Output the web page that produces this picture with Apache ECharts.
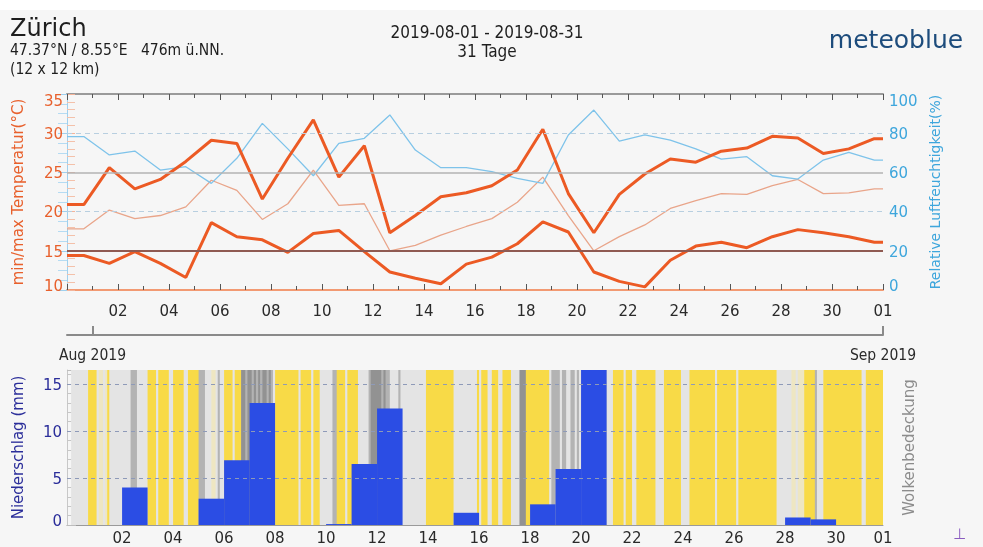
<!DOCTYPE html>
<html><head><meta charset="utf-8">
<script src="https://cdn.jsdelivr.net/npm/echarts@6/dist/echarts.min.js"></script>
<style>html,body{margin:0;padding:0;background:#fff}#c{width:983px;height:547px}</style>
</head><body><div id="c"></div>
<script>
// ---- data (day index 0 = 31 Jul) ----
const days = 32;
const tempMax = [20.9,25.6,22.9,24.1,26.4,29.1,28.7,21.6,26.8,31.7,24.4,28.4,17.3,19.5,21.9,22.4,23.3,25.3,30.5,22.3,17.3,22.2,24.8,26.7,26.3,27.7,28.1,29.6,29.4,27.4,28.0,29.3];
const tempMin = [14.4,13.4,14.9,13.4,11.6,18.6,16.8,16.4,14.8,17.2,17.6,14.9,12.3,11.5,10.8,13.3,14.2,15.9,18.7,17.4,12.3,11.1,10.4,13.8,15.6,16.1,15.4,16.8,17.7,17.3,16.8,16.1];
const tempMean = [17.8,20.2,19.1,19.5,20.6,24.0,22.7,19.0,21.0,25.3,20.8,21.0,15.0,15.7,17.0,18.1,19.1,21.2,24.4,19.5,15.0,16.8,18.3,20.4,21.4,22.3,22.2,23.3,24.1,22.3,22.4,22.9];
const humidity = [78.3,68.9,70.9,61.2,62.9,54.4,67.2,85.0,72.0,58.3,74.8,77.4,89.3,71.4,62.4,62.4,60.4,57.0,54.4,79.1,91.8,76.0,79.1,76.5,72.0,66.8,68.0,58.3,56.6,66.3,70.2,66.3];
const precip = [0,0,4.0,0,0,2.8,6.9,13.0,0,0,0.1,6.5,12.4,0,0,1.3,0,0,2.2,5.95,17.0,0,0,0,0,0,0,0,0.8,0.6,0,0];
// cloud cover, 12 two-hour slots per day: y clear, c thin, l cloudy, g overcast, d thick
const cloud = [
 "llllllllyyyy","lcclcyllllll","llllggglllll","yyyylyyyyyll","yyyyyllyyyyy","ggglllcclgll",
 "yyyylyyyddgd","dgdgdgddgdgl","yyyyyyyyyyyl","yyyyylyyylll","lllggyyyylyy","yyylllllgddd",
 "ddgdggllllgl","llllllllllly","yyyyyyyyyyyy","llllllllllly","lyyyllyyylly","yyylllldddyy",
 "yyyyyyyyylgg","gglggllgglgl","gggggggggggg","lllyyyyylyyy","llyyyyyyyyyl","lllyyyyyyyyl",
 "lllyyyyyyyyy","yyylyyyyyyyy","ylyyyyyyyyyy","yyyyyyyyllll","lllcclcccyyy","yyglllyyyyyy",
 "yyyyyyyyyyyy","llyyyyyyyyyy"];
const tempTicks = [10,15,20,25,30,35];
const humTicks = [0,20,40,60,80,100];
const precipTicks = [0,5,10,15];
const dayTickLabels = ["02","04","06","08","10","12","14","16","18","20","22","24","26","28","30","01"];
const monthLabels = ["Aug 2019","Sep 2019"];
const refTemps = [15,20,25,30];

// ---- build ----
const SHIFT = 0.16; // local-time offset of the daily data
const FF = "DejaVu Sans";
const FC = "DejaVu Sans Condensed";
function linePts(arr){
  const p = [[0, arr[0]]];
  arr.forEach((v,i)=>p.push([i+0.5+SHIFT, v]));
  p.push([days, arr[arr.length-1]]);
  return p;
}
const cloudColors = {y:'#f8da47', c:'#eee6c2', l:'#e4e4e4', g:'#b3b3b3', d:'#929292'};
const codeList = Object.keys(cloudColors);
const runs = [];
cloud.forEach((s,d)=>{
  for(let k=0;k<s.length;k++){
    const t0 = d + k/12 + SHIFT, t1 = t0 + 1/12, ci = codeList.indexOf(s[k]);
    const last = runs[runs.length-1];
    if(last && last[2]===ci && Math.abs(last[1]-t0)<1e-6) last[1]=t1; else runs.push([t0,t1,ci]);
  }
});
const bars = [];
precip.forEach((v,d)=>{ if(v>0) bars.push([d+SHIFT, d+1+SHIFT, v]); });
const bottomLabelVals = dayTickLabels.map((l,i)=> i===dayTickLabels.length-1 ? days : 2*(i+1)+SHIFT);

function edgeFmt(minV,maxV){
  return v => v===maxV ? '{t|'+v+'}' : (v===minV ? '{b|'+v+'}' : '{n|'+v+'}');
}
function rich(color){
  return {t:{color, padding:[17,0,0,0], fontFamily:FF, fontSize:15},
          b:{color, padding:[0,0,5,0], fontFamily:FF, fontSize:15},
          n:{color, padding:[4,0,0,0], fontFamily:FF, fontSize:15}};
}
const tickStyle = {color:'#555', width:1};

const option = {
  backgroundColor:'#f6f6f6',
  animation:false,
  graphic:[
    {type:'rect', left:0, top:0, shape:{width:983, height:10}, style:{fill:'#ffffff'}, z:-1},
    {type:'text', left:10, top:18, style:{text:'Zürich', font:'24px "DejaVu Sans"', fill:'#1e1e1e'}},
    {type:'text', left:10, top:43, style:{text:'47.37°N / 8.55°E   476m ü.NN.', font:'15.5px "DejaVu Sans Condensed"', fill:'#1e1e1e'}},
    {type:'text', left:10, top:62, style:{text:'(12 x 12 km)', font:'15.5px "DejaVu Sans Condensed"', fill:'#1e1e1e'}},
    {type:'text', x:487, y:34, style:{text:'2019-08-01 - 2019-08-31', font:'17px "DejaVu Sans Condensed"', fill:'#1e1e1e', align:'center', verticalAlign:'middle'}},
    {type:'text', x:487, y:53, style:{text:'31 Tage', font:'17px "DejaVu Sans Condensed"', fill:'#1e1e1e', align:'center', verticalAlign:'middle'}},
    {type:'text', x:896, y:41, style:{text:'meteoblue', font:'25px "DejaVu Sans"', fill:'#1d4c7c', align:'center', verticalAlign:'middle'}},
    {type:'text', left:953, top:528, style:{text:'⊥', font:'15px "DejaVu Sans"', fill:'#8a5cc0'}}
  ],
  grid:[
    {left:67, right:100, top:94, height:196},
    {left:67, right:100, top:370, height:156}
  ],
  xAxis:[
    {type:'value', gridIndex:0, min:0, max:days, interval:2, position:'bottom',
     axisLine:{lineStyle:{color:'#f29a72', width:2}},
     axisTick:{inside:true, length:6, lineStyle:tickStyle},
     minorTick:{show:true, splitNumber:2, length:4, lineStyle:tickStyle},
     splitLine:{show:false},
     axisLabel:{margin:15, color:'#2a2a2a', fontFamily:FF, fontSize:15,
       formatter:v=> v===0 ? '' : dayTickLabels[v/2-1]}},
    {type:'value', gridIndex:0, min:0, max:days, interval:2, position:'top',
     axisLine:{lineStyle:{color:'#9a9a9a', width:2}},
     axisTick:{inside:true, length:6, lineStyle:tickStyle},
     minorTick:{show:true, splitNumber:2, length:4, lineStyle:tickStyle},
     splitLine:{show:false}, axisLabel:{show:false}},
    {type:'value', gridIndex:0, min:0, max:days, position:'bottom', offset:45,
     axisLine:{lineStyle:{color:'#8a8a8a', width:2}},
     axisTick:{inside:true, length:9, customValues:[1,days], lineStyle:{color:'#8a8a8a', width:2}},
     splitLine:{show:false},
     axisLabel:{customValues:[1,days], margin:13, color:'#2a2a2a', fontFamily:FC, fontSize:15.5,
       formatter:v=> v===1 ? monthLabels[0] : monthLabels[1]}},
    {type:'value', gridIndex:1, min:0, max:days, position:'bottom',
     axisLine:{lineStyle:{color:'#9a9a9a', width:1}},
     axisTick:{show:false}, splitLine:{show:false},
     axisLabel:{customValues:bottomLabelVals, margin:7, color:'#2a2a2a', fontFamily:FF, fontSize:15,
       formatter:v=> dayTickLabels[bottomLabelVals.findIndex(x=>Math.abs(x-v)<1e-6)]}}
  ],
  yAxis:[
    {type:'value', gridIndex:0, min:10, max:35, interval:5, position:'left',
     name:'min/max Temperatur(°C)', nameLocation:'middle', nameRotate:90, nameGap:40,
     nameTextStyle:{color:'#e8602c', fontFamily:FF, fontSize:15},
     axisLine:{show:true, lineStyle:{color:'#f6c9b4', width:1}},
     axisTick:{show:true, inside:true, length:8, lineStyle:{color:'#f4b49a'}},
     minorTick:{show:true, splitNumber:5, length:8, lineStyle:{color:'#f4c1aa'}},
     splitLine:{show:false},
     axisLabel:{margin:4, formatter:edgeFmt(10,35), rich:rich('#e8602c')}},
    {type:'value', gridIndex:0, min:0, max:100, interval:20, position:'right',
     name:'Relative Luftfeuchtigkeit(%)', nameLocation:'middle', nameRotate:90, nameGap:46,
     nameTextStyle:{color:'#3ea6dc', fontFamily:FF, fontSize:14},
     axisLine:{show:true, lineStyle:{color:'#9fd0ee', width:1}},
     axisTick:{show:true, inside:true, length:9, lineStyle:{color:'#9fd0ee'}},
     minorTick:{show:true, splitNumber:4, length:9, lineStyle:{color:'#b5dbf2'}},
     splitLine:{show:false},
     axisLabel:{margin:6, formatter:edgeFmt(0,100), rich:rich('#3ea6dc')}},
    {type:'value', gridIndex:1, min:0, max:16.5, interval:5, position:'left',
     name:'Niederschlag (mm)', nameLocation:'middle', nameRotate:90, nameGap:40,
     nameTextStyle:{color:'#2b2e9a', fontFamily:FF, fontSize:15},
     axisLine:{show:true, lineStyle:{color:'#c8c8c8', width:1}},
     axisTick:{show:true, inside:true, length:9, lineStyle:{color:'#bdbdbd'}},
     minorTick:{show:true, splitNumber:5, length:9, lineStyle:{color:'#c6c6c6'}},
     splitLine:{show:false},
     axisLabel:{margin:5, formatter:v=> v===0 ? '{b|0}' : '{n|'+v+'}', rich:rich('#2b2e9a')}},
    {type:'value', gridIndex:1, min:0, max:1, position:'right',
     name:'Wolkenbedeckung', nameLocation:'middle', nameRotate:90, nameGap:20,
     nameTextStyle:{color:'#8c8c8c', fontFamily:FF, fontSize:15},
     axisLine:{show:false}, axisTick:{show:false}, axisLabel:{show:false}, splitLine:{show:false}}
  ],
  series:[
    {type:'custom', xAxisIndex:3, yAxisIndex:3, clip:true, z:1, silent:true, data:runs,
     renderItem:(params, api)=>{
       const p0 = api.coord([api.value(0), 1]);
       const p1 = api.coord([api.value(1), 0]);
       return {type:'rect', shape:{x:p0[0], y:p0[1], width:p1[0]-p0[0]+0.6, height:p1[1]-p0[1]},
               style:{fill:cloudColors[codeList[api.value(2)]]}};
     }},
    {type:'line', xAxisIndex:3, yAxisIndex:2, data:[], z:2, silent:true,
     markLine:{symbol:'none', silent:true, label:{show:false},
       lineStyle:{color:'#8e9ab8', type:[4,4], width:1},
       data:precipTicks.filter(v=>v>0).map(v=>({yAxis:v}))}},
    {type:'custom', xAxisIndex:3, yAxisIndex:2, clip:true, z:3, silent:true, data:bars,
     renderItem:(params, api)=>{
       const p0 = api.coord([api.value(0), api.value(2)]);
       const p1 = api.coord([api.value(1), 0]);
       return {type:'rect', shape:{x:p0[0], y:p0[1], width:p1[0]-p0[0], height:p1[1]-p0[1]},
               style:{fill:'#2b4de4'}};
     }},
    {name:'mean', type:'line', xAxisIndex:0, yAxisIndex:0, data:linePts(tempMean), z:2,
     symbol:'none', lineStyle:{color:'#e9a58a', width:1.3},
     markLine:{symbol:'none', silent:true, label:{show:false},
       data:refTemps.map(v=>({yAxis:v, lineStyle: v===15 ? {color:'#8f5a52', width:2, type:'solid'}
                                       : v===25 ? {color:'#b3b3b3', width:1.5, type:'solid'}
                                       : {color:'#b8cfe0', width:1.2, type:[5,4]}}))}},
    {name:'humidity', type:'line', xAxisIndex:0, yAxisIndex:1, data:linePts(humidity), z:3,
     symbol:'none', lineStyle:{color:'#7ec3ea', width:1.3}},
    {name:'min', type:'line', xAxisIndex:0, yAxisIndex:0, data:linePts(tempMin), z:4,
     symbol:'none', lineStyle:{color:'#ec5a24', width:3}},
    {name:'max', type:'line', xAxisIndex:0, yAxisIndex:0, data:linePts(tempMax), z:4,
     symbol:'none', lineStyle:{color:'#ec5a24', width:3}}
  ]
};
const chart = echarts.init(document.getElementById('c'));
chart.setOption(option);
</script>
</body></html>
